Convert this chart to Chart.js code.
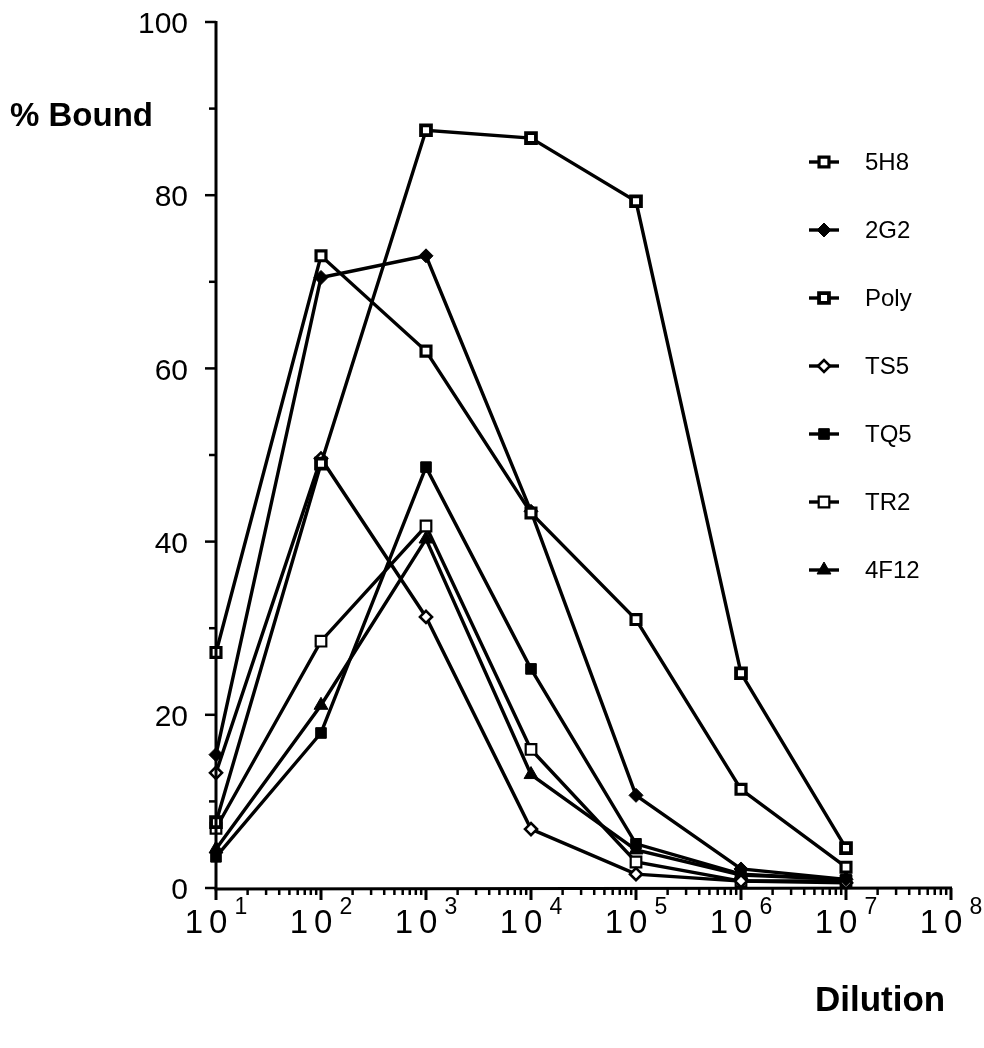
<!DOCTYPE html>
<html>
<head>
<meta charset="utf-8">
<script src="https://cdn.jsdelivr.net/npm/chart.js@4.4.1/dist/chart.umd.min.js"></script>
<style>
  html, body { margin: 0; padding: 0; background: #fff; }
  #wrap { width: 984px; height: 1048px; position: relative; }
</style>
</head>
<body>
<div id="wrap"><canvas id="c" width="984" height="1048"></canvas></div>
<script>
// ---- data ----
const dilutions = [10, 100, 1000, 10000, 100000, 1000000, 10000000];
const seriesNames = ['5H8', '2G2', 'Poly', 'TS5', 'TQ5', 'TR2', '4F12'];
const s5H8 = [27.2, 73.0, 62.0, 43.3, 31.0, 11.4, 2.4];
const s2G2 = [15.4, 70.5, 73.0, 43.5, 10.7, 2.2, 1.0];
const sPoly = [7.6, 49.0, 87.5, 86.6, 79.3, 24.8, 4.6];
const sTS5 = [13.3, 49.6, 31.3, 6.8, 1.6, 0.8, 0.6];
const sTQ5 = [3.6, 17.9, 48.6, 25.3, 5.1, 1.6, 1.0];
const sTR2 = [6.9, 28.5, 41.8, 16.0, 3.0, 0.8, 0.8];
const s4F12 = [4.5, 21.1, 40.3, 13.1, 4.4, 1.5, 1.0];
const yTickValues = [0, 20, 40, 60, 80, 100];
const xTickExponents = [1, 2, 3, 4, 5, 6, 7, 8];
const yAxisTitle = '% Bound';
const xAxisTitle = 'Dilution';

// ---- styles ----
const FONT = '"Liberation Sans", Arial, Helvetica, sans-serif';
const markerStyles = [
  { pointStyle: 'rect', radius: 7, fill: '#fff', border: 3.2 },     // 5H8
  { pointStyle: 'rectRot', radius: 7, fill: '#000', border: 1 },    // 2G2
  { pointStyle: 'rect', radius: 7, fill: '#fff', border: 3.8 },     // Poly
  { pointStyle: 'rectRot', radius: 6, fill: '#fff', border: 2.6 },  // TS5
  { pointStyle: 'rect', radius: 7.5, fill: '#000', border: 1 },     // TQ5
  { pointStyle: 'rect', radius: 7.5, fill: '#fff', border: 2.2 },   // TR2
  { pointStyle: 'triangle', radius: 8, fill: '#000', border: 1 }    // 4F12
];
const seriesValues = [s5H8, s2G2, sPoly, sTS5, sTQ5, sTR2, s4F12];

const datasets = seriesNames.map((name, i) => ({
  label: name,
  data: dilutions.map((x, j) => ({ x: x, y: seriesValues[i][j] })),
  borderColor: '#000',
  borderWidth: 3.4,
  pointStyle: markerStyles[i].pointStyle,
  pointRadius: markerStyles[i].radius,
  pointBackgroundColor: markerStyles[i].fill,
  pointBorderColor: '#000',
  pointBorderWidth: markerStyles[i].border,
  tension: 0,
  clip: false
}));

function drawMarker(ctx, style, x, y) {
  const r = style.radius;
  ctx.save();
  ctx.fillStyle = style.fill;
  ctx.strokeStyle = '#000';
  ctx.lineWidth = style.border;
  ctx.beginPath();
  if (style.pointStyle === 'rect') {
    const h = r * Math.SQRT1_2;
    ctx.rect(x - h, y - h, 2 * h, 2 * h);
  } else if (style.pointStyle === 'rectRot') {
    ctx.moveTo(x - r, y); ctx.lineTo(x, y - r); ctx.lineTo(x + r, y); ctx.lineTo(x, y + r); ctx.closePath();
  } else if (style.pointStyle === 'triangle') {
    const a = r * Math.sqrt(3) / 2;
    ctx.moveTo(x, y - r); ctx.lineTo(x + a, y + r / 2); ctx.lineTo(x - a, y + r / 2); ctx.closePath();
  }
  ctx.fill();
  ctx.stroke();
  ctx.restore();
}

const axesPlugin = {
  id: 'axesPlugin',
  afterDraw(chart) {
    const ctx = chart.ctx;
    const xs = chart.scales.x, ys = chart.scales.y;
    const left = xs.getPixelForValue(10);
    const right = xs.getPixelForValue(1e8);
    const top = ys.getPixelForValue(100);
    const bottom = ys.getPixelForValue(0);
    ctx.save();
    ctx.strokeStyle = '#000';
    ctx.fillStyle = '#000';
    ctx.lineCap = 'butt';
    // axis lines
    ctx.lineWidth = 3;
    ctx.beginPath();
    ctx.moveTo(left, top - 1); ctx.lineTo(left, bottom + 1); ctx.lineTo(right + 1, bottom);
    ctx.stroke();
    // y ticks (major + minor)
    ctx.lineWidth = 2.5;
    for (let v = 0; v <= 100; v += 10) {
      const py = ys.getPixelForValue(v);
      const len = (v % 20 === 0) ? 11 : 7;
      ctx.beginPath(); ctx.moveTo(left - len, py); ctx.lineTo(left, py); ctx.stroke();
    }
    // x ticks
    for (let d = 1; d <= 8; d++) {
      const base = Math.pow(10, d);
      const px = xs.getPixelForValue(base);
      ctx.lineWidth = 3;
      ctx.beginPath(); ctx.moveTo(px, bottom); ctx.lineTo(px, bottom + 12); ctx.stroke();
      if (d < 8) {
        ctx.lineWidth = 2.5;
        for (let m = 2; m <= 9; m++) {
          const mx = xs.getPixelForValue(m * base);
          ctx.beginPath(); ctx.moveTo(mx, bottom); ctx.lineTo(mx, bottom + 7); ctx.stroke();
        }
      }
    }
    // y tick labels
    ctx.font = '30px ' + FONT;
    ctx.textAlign = 'right';
    ctx.textBaseline = 'middle';
    yTickValues.forEach(v => {
      ctx.fillText(String(v), left - 28, ys.getPixelForValue(v) + 3);
    });
    // x tick labels: 10 with superscript exponent
    xTickExponents.forEach(e => {
      const px = xs.getPixelForValue(Math.pow(10, e));
      ctx.font = '33px ' + FONT;
      ctx.letterSpacing = '6px';
      const wBase = ctx.measureText('10').width;
      ctx.font = '23px ' + FONT;
      ctx.letterSpacing = '0px';
      const wExp = ctx.measureText(String(e)).width;
      const total = wBase + 1 + wExp;
      const start = px - total / 2;
      ctx.textAlign = 'left';
      ctx.textBaseline = 'alphabetic';
      ctx.font = '33px ' + FONT;
      ctx.letterSpacing = '6px';
      ctx.fillText('10', start, bottom + 45);
      ctx.letterSpacing = '0px';
      ctx.font = '23px ' + FONT;
      ctx.fillText(String(e), start + wBase + 1, bottom + 26);
    });
    // axis titles
    ctx.letterSpacing = '0px';
    ctx.font = 'bold 33px ' + FONT;
    ctx.textAlign = 'left';
    ctx.textBaseline = 'middle';
    ctx.fillText(yAxisTitle, 10, 117);
    ctx.font = 'bold 35px ' + FONT;
    ctx.fillText(xAxisTitle, 815, 1001);
    // legend
    seriesNames.forEach((name, i) => {
      const ly = 162 + 68 * i;
      ctx.lineWidth = 3.4;
      ctx.beginPath(); ctx.moveTo(809, ly); ctx.lineTo(839, ly); ctx.stroke();
      drawMarker(ctx, markerStyles[i], 824, ly);
      ctx.fillStyle = '#000';
      ctx.font = '24px ' + FONT;
      ctx.textAlign = 'left';
      ctx.textBaseline = 'middle';
      ctx.fillText(name, 865, ly + 1);
    });
    ctx.restore();
  }
};

new Chart(document.getElementById('c'), {
  type: 'line',
  data: { datasets: datasets },
  options: {
    responsive: false,
    animation: false,
    layout: { padding: { left: 0, top: 22, right: 33, bottom: 0 } },
    plugins: { legend: { display: false }, tooltip: { enabled: false } },
    scales: {
      x: {
        type: 'logarithmic', min: 10, max: 1e8,
        grid: { display: false }, border: { display: false },
        ticks: { display: false },
        afterFit(scale) { scale.height = 160; }
      },
      y: {
        type: 'linear', min: 0, max: 100,
        grid: { display: false }, border: { display: false },
        ticks: { display: false },
        afterFit(scale) { scale.width = 216; }
      }
    }
  },
  plugins: [axesPlugin]
});
</script>
</body>
</html>
